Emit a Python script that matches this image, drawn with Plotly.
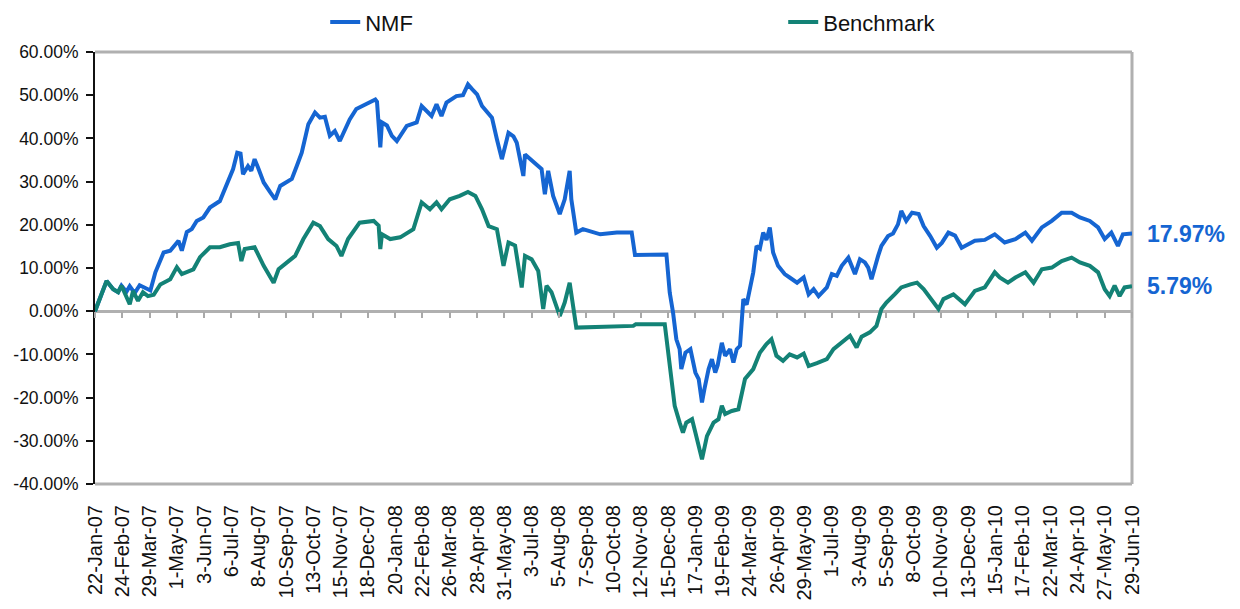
import pandas as pd
import plotly.graph_objects as go

# ---------------- data ----------------
tick_labels = ["22-Jan-07", "24-Feb-07", "29-Mar-07", "1-May-07", "3-Jun-07", "6-Jul-07",
               "8-Aug-07", "10-Sep-07", "13-Oct-07", "15-Nov-07", "18-Dec-07", "20-Jan-08",
               "22-Feb-08", "26-Mar-08", "28-Apr-08", "31-May-08", "3-Jul-08", "5-Aug-08",
               "7-Sep-08", "10-Oct-08", "12-Nov-08", "15-Dec-08", "17-Jan-09", "19-Feb-09",
               "24-Mar-09", "26-Apr-09", "29-May-09", "1-Jul-09", "3-Aug-09", "5-Sep-09",
               "8-Oct-09", "10-Nov-09", "13-Dec-09", "15-Jan-10", "17-Feb-10", "22-Mar-10",
               "24-Apr-10", "27-May-10", "29-Jun-10"]

y_ticks = [-40, -30, -20, -10, 0, 10, 20, 30, 40, 50, 60]

nmf_dates = [
    "2007-01-22", "2007-02-05", "2007-02-13", "2007-02-19", "2007-02-23", "2007-03-01",
    "2007-03-05", "2007-03-11", "2007-03-17", "2007-03-23", "2007-03-30", "2007-04-05",
    "2007-04-15", "2007-04-23", "2007-05-03", "2007-05-07", "2007-05-13", "2007-05-19",
    "2007-05-25", "2007-06-02", "2007-06-10", "2007-06-22", "2007-06-30", "2007-07-08",
    "2007-07-13", "2007-07-17", "2007-07-20", "2007-07-26", "2007-07-30", "2007-08-03",
    "2007-08-07", "2007-08-14", "2007-08-22", "2007-08-28", "2007-09-03", "2007-09-11",
    "2007-09-17", "2007-09-23", "2007-09-29", "2007-10-07", "2007-10-15", "2007-10-21",
    "2007-10-27", "2007-11-02", "2007-11-08", "2007-11-14", "2007-11-18", "2007-11-26",
    "2007-12-04", "2007-12-12", "2007-12-21", "2007-12-27", "2007-12-29", "2008-01-02",
    "2008-01-04", "2008-01-10", "2008-01-16", "2008-01-22", "2008-02-03", "2008-02-15",
    "2008-02-21", "2008-02-27", "2008-03-04", "2008-03-10", "2008-03-16", "2008-03-22",
    "2008-04-03", "2008-04-11", "2008-04-17", "2008-04-22", "2008-04-28", "2008-05-04",
    "2008-05-10", "2008-05-16", "2008-05-22", "2008-05-28", "2008-06-05", "2008-06-11",
    "2008-06-15", "2008-06-23", "2008-06-25", "2008-07-01", "2008-07-09", "2008-07-15",
    "2008-07-19", "2008-07-23", "2008-07-29", "2008-08-06", "2008-08-12", "2008-08-18",
    "2008-08-20", "2008-08-26", "2008-09-03", "2008-09-24", "2008-10-14", "2008-11-01",
    "2008-11-05", "2008-12-13", "2008-12-17", "2008-12-21", "2008-12-25", "2008-12-29",
    "2008-12-31", "2009-01-05", "2009-01-11", "2009-01-17", "2009-01-21", "2009-01-25",
    "2009-01-28", "2009-02-02", "2009-02-06", "2009-02-10", "2009-02-13", "2009-02-18",
    "2009-02-22", "2009-02-28", "2009-03-04", "2009-03-08", "2009-03-12", "2009-03-16",
    "2009-03-20", "2009-03-24", "2009-03-28", "2009-04-01", "2009-04-05", "2009-04-09",
    "2009-04-13", "2009-04-17", "2009-04-21", "2009-04-27", "2009-05-05", "2009-05-11",
    "2009-05-20", "2009-05-28", "2009-06-03", "2009-06-09", "2009-06-15", "2009-06-25",
    "2009-07-01", "2009-07-07", "2009-07-13", "2009-07-21", "2009-07-29", "2009-08-04",
    "2009-08-10", "2009-08-14", "2009-08-18", "2009-08-26", "2009-08-30", "2009-09-07",
    "2009-09-13", "2009-09-19", "2009-09-23", "2009-09-29", "2009-10-06", "2009-10-14",
    "2009-10-20", "2009-10-28", "2009-11-05", "2009-11-11", "2009-11-19", "2009-11-27",
    "2009-12-05", "2009-12-09", "2009-12-21", "2010-01-02", "2010-01-14", "2010-01-26",
    "2010-02-08", "2010-02-20", "2010-02-28", "2010-03-12", "2010-03-24", "2010-04-05",
    "2010-04-17", "2010-04-27", "2010-05-09", "2010-05-19", "2010-05-27", "2010-06-04",
    "2010-06-12", "2010-06-18", "2010-06-29"]

nmf_values = [
    0.0, 7.0, 5.1, 4.4, 5.9, 4.5,
    5.8, 4.2, 6.0, 5.5, 4.8, 9.0,
    13.6, 14.0, 16.3, 14.0, 18.3, 19.0,
    20.9, 21.7, 24.0, 25.5, 29.4, 32.9,
    36.7, 36.5, 31.7, 33.6, 32.5, 35.2,
    33.3, 29.8, 27.5, 25.9, 29.0, 29.8,
    30.6, 33.6, 36.7, 43.3, 46.0, 44.8,
    45.0, 40.6, 41.7, 39.4, 41.0, 44.4,
    46.8, 47.5, 48.3, 49.0, 48.5, 37.9,
    43.7, 43.0, 40.6, 39.4, 42.9, 43.7,
    47.5, 46.5, 45.2, 47.9, 45.2, 48.3,
    49.8, 50.0, 52.5, 51.4, 50.2, 47.5,
    46.0, 44.8, 39.8, 35.2, 41.3, 40.5,
    39.0, 31.3, 36.3, 35.2, 34.0, 32.9,
    27.1, 32.5, 26.7, 22.5, 25.9, 32.5,
    25.9, 18.2, 19.0, 17.8, 18.2, 18.2,
    13.0, 13.1, 4.3, -0.3, -6.5, -8.8,
    -13.4, -9.6, -8.8, -14.2, -15.7, -21.1,
    -18.0, -13.4, -11.1, -14.2, -12.5, -7.3,
    -10.3, -8.8, -11.9, -8.8, -8.0, 2.8,
    1.5, 5.9, 9.0, 15.1, 14.5, 18.2,
    16.5, 19.4, 13.6, 10.5, 8.6, 7.8,
    6.6, 7.8, 3.9, 5.1, 3.5, 5.5,
    8.6, 8.2, 10.5, 12.4, 8.6, 12.0,
    11.3, 10.1, 7.4, 12.8, 15.1, 17.4,
    18.0, 20.1, 23.2, 20.9, 22.8, 22.5,
    19.7, 17.4, 14.7, 15.8, 18.2, 17.5,
    14.7, 15.1, 16.3, 16.5, 17.8, 15.9,
    16.7, 18.2, 16.3, 19.4, 20.9, 22.8,
    22.8, 21.7, 20.9, 19.4, 16.7, 18.2,
    15.1, 17.8, 17.97]

bench_dates = [
    "2007-01-22", "2007-02-05", "2007-02-13", "2007-02-19", "2007-02-23", "2007-03-01",
    "2007-03-05", "2007-03-09", "2007-03-15", "2007-03-21", "2007-03-27", "2007-04-03",
    "2007-04-11", "2007-04-23", "2007-05-01", "2007-05-07", "2007-05-13", "2007-05-21",
    "2007-05-29", "2007-06-10", "2007-06-22", "2007-07-04", "2007-07-14", "2007-07-18",
    "2007-07-22", "2007-08-03", "2007-08-14", "2007-08-26", "2007-09-01", "2007-09-11",
    "2007-09-21", "2007-10-01", "2007-10-13", "2007-10-21", "2007-10-31", "2007-11-10",
    "2007-11-16", "2007-11-24", "2007-12-08", "2007-12-25", "2007-12-31", "2008-01-02",
    "2008-01-04", "2008-01-14", "2008-01-26", "2008-02-11", "2008-02-21", "2008-03-02",
    "2008-03-10", "2008-03-16", "2008-03-26", "2008-04-07", "2008-04-17", "2008-04-26",
    "2008-05-04", "2008-05-12", "2008-05-22", "2008-05-30", "2008-06-05", "2008-06-13",
    "2008-06-21", "2008-06-25", "2008-07-03", "2008-07-11", "2008-07-17", "2008-07-21",
    "2008-07-27", "2008-08-06", "2008-08-12", "2008-08-18", "2008-08-22", "2008-08-26",
    "2008-11-03", "2008-11-06", "2008-12-11", "2008-12-17", "2008-12-23", "2008-12-29",
    "2009-01-02", "2009-01-06", "2009-01-13", "2009-01-17", "2009-01-25", "2009-01-31",
    "2009-02-08", "2009-02-14", "2009-02-18", "2009-02-22", "2009-03-02", "2009-03-10",
    "2009-03-18", "2009-03-28", "2009-04-05", "2009-04-13", "2009-04-19", "2009-04-25",
    "2009-05-03", "2009-05-11", "2009-05-20", "2009-05-28", "2009-06-03", "2009-06-13",
    "2009-06-25", "2009-07-03", "2009-07-15", "2009-07-23", "2009-07-31", "2009-08-06",
    "2009-08-16", "2009-08-24", "2009-08-30", "2009-09-05", "2009-09-15", "2009-09-23",
    "2009-10-04", "2009-10-12", "2009-10-20", "2009-10-28", "2009-11-07", "2009-11-13",
    "2009-11-25", "2009-12-09", "2009-12-21", "2010-01-02", "2010-01-14", "2010-01-20",
    "2010-01-30", "2010-02-08", "2010-02-20", "2010-03-02", "2010-03-12", "2010-03-24",
    "2010-04-05", "2010-04-17", "2010-04-27", "2010-05-09", "2010-05-19", "2010-05-27",
    "2010-06-02", "2010-06-08", "2010-06-14", "2010-06-20", "2010-06-29"]

bench_values = [
    0.0, 7.0, 5.1, 4.4, 5.9, 3.2,
    1.6, 4.7, 2.4, 4.4, 3.5, 3.8,
    6.2, 7.4, 10.2, 8.6, 9.0, 9.7,
    12.5, 14.8, 14.8, 15.5, 15.8, 11.6,
    14.4, 14.8, 10.5, 6.6, 9.7, 11.3,
    12.8, 16.7, 20.5, 19.7, 16.7, 15.1,
    12.8, 16.7, 20.5, 20.9, 19.8, 14.4,
    17.8, 16.7, 17.1, 19.0, 25.2, 23.6,
    25.2, 23.6, 25.9, 26.7, 27.6, 26.7,
    23.6, 19.7, 19.0, 10.5, 15.9, 15.2,
    5.5, 12.8, 12.0, 9.3, 0.5, 5.9,
    4.4, -1.1, 2.0, 6.6, 1.2, -3.8,
    -3.4, -3.0, -3.0, -13.4, -21.9, -25.8,
    -28.1, -25.8, -25.0, -28.1, -34.3, -28.9,
    -25.8, -25.0, -21.9, -23.8, -23.1, -22.7,
    -15.7, -13.4, -9.6, -7.6, -6.5, -10.3,
    -11.5, -10.0, -10.7, -9.8, -12.7, -12.0,
    -11.1, -8.8, -6.9, -5.7, -8.4, -5.9,
    -4.9, -3.4, 0.5, 2.0, 3.9, 5.5,
    6.2, 6.6, 5.1, 3.2, 0.5, 2.8,
    3.9, 1.6, 4.7, 5.5, 9.0, 7.8,
    6.6, 7.8, 9.0, 6.6, 9.7, 10.1,
    11.6, 12.4, 11.3, 10.5, 9.0, 5.1,
    3.5, 5.9, 3.5, 5.5, 5.79]

series_names = ["NMF", "Benchmark"]
series_colors = ["#1565d2", "#138276"]

# ---------------- figure ----------------
tick_dates = pd.to_datetime(tick_labels, format="%d-%b-%y")
x_range = [tick_dates[0], tick_dates[-1]]

FONT = "Liberation Sans, Arial, sans-serif"

fig = go.Figure()
fig.add_trace(go.Scatter(x=pd.to_datetime(nmf_dates), y=nmf_values, mode="lines",
                         name=series_names[0],
                         line=dict(color=series_colors[0], width=4)))
fig.add_trace(go.Scatter(x=pd.to_datetime(bench_dates), y=bench_values, mode="lines",
                         name=series_names[1],
                         line=dict(color=series_colors[1], width=4)))
# invisible trace to carry the tick-mark axis at the zero line
fig.add_trace(go.Scatter(x=[tick_dates[0]], y=[0], xaxis="x2", mode="lines",
                         showlegend=False, hoverinfo="skip",
                         line=dict(color="rgba(0,0,0,0)")))

fig.update_layout(
    width=1240, height=609, autosize=False,
    margin=dict(l=95, r=108, t=52, b=125, pad=0, autoexpand=False),
    paper_bgcolor="white", plot_bgcolor="white",
    showlegend=True,
    legend=dict(orientation="h", x=0.222, xanchor="left",
                y=0.998, yref="container", yanchor="top",
                font=dict(family=FONT, size=22, color="#111"),
                entrywidth=413, entrywidthmode="pixels",
                bgcolor="rgba(0,0,0,0)"),
    xaxis=dict(type="date", range=x_range, tickvals=tick_dates, ticktext=tick_labels,
               tickangle=-90, showgrid=False, zeroline=False, showline=False,
               ticks="", ticklabelstandoff=16, automargin=False,
               tickfont=dict(family=FONT, size=20, color="#111")),
    xaxis2=dict(type="date", matches="x", overlaying="x", anchor="free", position=0.4,
                side="bottom", tickvals=tick_dates, showticklabels=False,
                ticks="outside", ticklen=6, tickwidth=2, tickcolor="#a9a9a9",
                showline=False, showgrid=False, zeroline=False, automargin=False),
    yaxis=dict(range=[-40, 60], tickvals=y_ticks,
               ticktext=[f"{v:.2f}%" for v in y_ticks],
               showgrid=False, zeroline=True, zerolinecolor="#b0b0b0", zerolinewidth=3,
               showline=True, linecolor="#111", linewidth=2,
               ticks="outside", ticklen=7, tickwidth=2, tickcolor="#111",
               ticklabelstandoff=4, automargin=False,
               tickfont=dict(family=FONT, size=17.5, color="#111")),
)

# plot frame (top, right, bottom) in light grey
for x0, y0, x1, y1 in [(0, 1, 1, 1), (1, 0, 1, 1), (0, 0, 1, 0)]:
    fig.add_shape(type="line", xref="paper", yref="paper", x0=x0, y0=y0, x1=x1, y1=y1,
                  line=dict(color="#b0b0b0", width=3), layer="below")

# end-value labels
for vals in (nmf_values, bench_values):
    fig.add_annotation(xref="paper", yref="y", x=1.013, y=vals[-1], xanchor="left",
                       yanchor="middle", text=f"<b>{vals[-1]:.2f}%</b>", showarrow=False,
                       font=dict(family=FONT, size=23, color="#1565d2"))

fig.write_html("out.html", config={"displayModeBar": False},
               post_script="document.body.style.margin='0';document.body.style.overflow='hidden';")
